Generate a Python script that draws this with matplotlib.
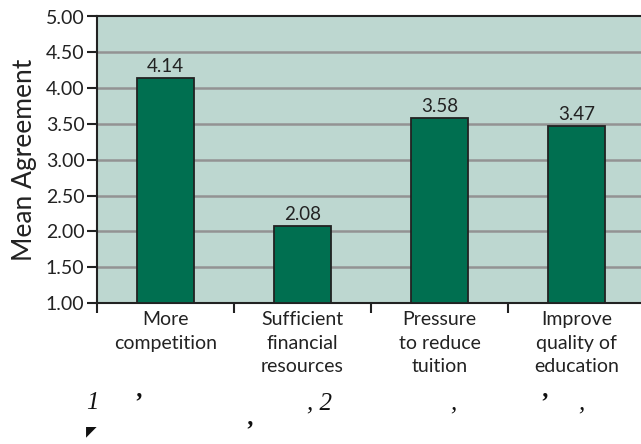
import matplotlib
matplotlib.use("Agg")
import matplotlib.pyplot as plt
import numpy as np

categories = ["More\ncompetition", "Sufficient\nfinancial\nresources",
              "Pressure\nto reduce\ntuition", "Improve\nquality of\neducation"]
values = [4.14, 2.08, 3.58, 3.47]
value_labels = ["4.14", "2.08", "3.58", "3.47"]
yticks = [1.0, 1.5, 2.0, 2.5, 3.0, 3.5, 4.0, 4.5, 5.0]
ytick_labels = ["1.00", "1.50", "2.00", "2.50", "3.00", "3.50", "4.00", "4.50", "5.00"]

plt.rcParams['font.family'] = ['Lato', 'DejaVu Sans']

fig = plt.figure(figsize=(6.41, 4.44), dpi=100)
ax = fig.add_axes([97/641, 141/444, 548/641, 286.5/444])
ax.set_facecolor('#bdd7d0')

x = np.arange(len(categories))
ax.set_xlim(-0.5, len(categories) - 0.5)
ax.set_ylim(1.0, 5.0)

for yv in yticks[1:-1]:
    ax.axhline(yv, color='#939393', lw=1.8, zorder=1)

ax.bar(x, np.array(values) - 1.0, bottom=1.0, width=0.41, color='#006f50',
       edgecolor='#222222', linewidth=1.3, zorder=3)
for xi, v, lab in zip(x, values, value_labels):
    ax.text(xi, v + 0.04, lab, ha='center', va='bottom', fontsize=13.5,
            color='#222222', zorder=4)

ax.set_yticks(yticks)
ax.set_yticklabels(ytick_labels, fontsize=14, color='#222222')
ax.set_xticks(x)
ax.set_xticklabels(categories, fontsize=14, color='#222222', linespacing=1.45)
ax.set_xticks(np.arange(-0.5, len(categories) + 0.5, 1.0), minor=True)
ax.tick_params(axis='x', which='major', length=0, pad=6)
ax.tick_params(axis='x', which='minor', length=7, width=1.5, color='#222222', direction='out')
ax.tick_params(axis='y', length=7, width=1.5, color='#222222', direction='out', pad=2)

for s in ['left', 'top', 'bottom']:
    ax.spines[s].set_color('#222222')
    ax.spines[s].set_linewidth(1.5)
ax.spines['right'].set_visible(False)

ax.set_ylabel("Mean Agreement", fontsize=19, color='#222222', labelpad=6)

# caption (partially rendered glyphs as in the reference)
cap_kw = dict(fontsize=18, family=['Liberation Serif', 'DejaVu Serif'], style='italic',
              color='#111111')
y1 = 1 - 403/444
fig.text(86/641, y1, "1", va='center', **cap_kw)
fig.text(133/641, y1, "’", fontweight='bold', va='center', **cap_kw)
fig.text(307/641, y1, ", 2", va='center', **cap_kw)
fig.text(450/641, y1, ",", va='center', **cap_kw)
fig.text(539/641, y1, "’", fontweight='bold', va='center', **cap_kw)
fig.text(578/641, y1, ",", va='center', **cap_kw)
fig.text(86/641, 1 - 431/444, "◤", fontsize=10, color='#111111', va='center',
         family=['DejaVu Sans'])
fig.text(244/641, 1 - 442/444, "’", fontweight='bold', va='bottom', **cap_kw)

fig.savefig("out.png", dpi=100)
